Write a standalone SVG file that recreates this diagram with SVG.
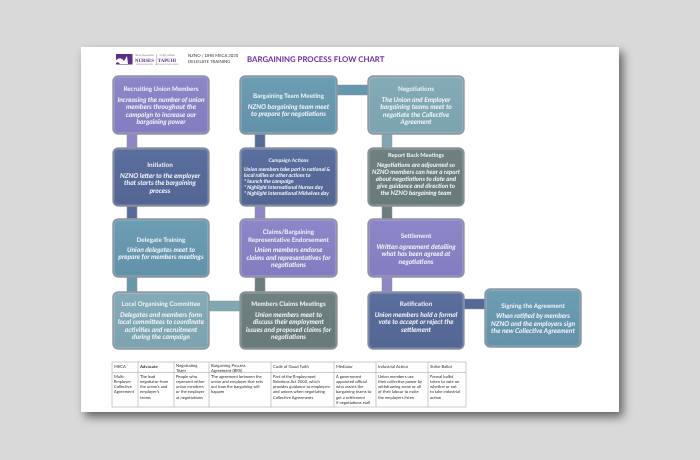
<svg xmlns="http://www.w3.org/2000/svg" width="700" height="460" viewBox="0 0 700 460">
<style>
text{font-family:"Lato","Open Sans","Liberation Sans",sans-serif;text-rendering:geometricPrecision}
.box{stroke:#93979f;stroke-width:1.4}
.t{fill:#eef1f6;font-size:6.3px;font-weight:700;text-anchor:middle}
.s{fill:#f2f4f8;font-size:6.7px;font-weight:700;font-style:italic;text-anchor:middle}
.t2{fill:#eef1f6;font-size:5.7px;font-weight:700;text-anchor:middle}
.s2{fill:#f2f4f8;font-size:6.2px;font-weight:700;font-style:italic;text-anchor:middle}
.t3{fill:#eef1f6;font-size:5px;font-weight:700;text-anchor:middle}
.s3{fill:#f2f4f8;font-size:5.3px;font-weight:700;font-style:italic}
.hi{fill:none;stroke:#ffffff;stroke-opacity:.18;stroke-width:.8}
.p{fill:url(#gp)}.b{fill:url(#gb)}.c{fill:url(#gc)}.l{fill:url(#gl)}.g{fill:url(#gg)}
.cn{stroke:#8d959c;stroke-width:.5}
.th{font-size:4.2px;fill:#333}
.td{font-size:4.1px;fill:#333}
.gr{fill:none;stroke:#aaa;stroke-width:.6}
</style>
<defs>
<linearGradient id="gp" x1="0" y1="0" x2="0" y2="1"><stop offset="0" stop-color="#8d87c9"/><stop offset="1" stop-color="#837cc0"/></linearGradient>
<linearGradient id="gb" x1="0" y1="0" x2="0" y2="1"><stop offset="0" stop-color="#5b6f9f"/><stop offset="1" stop-color="#526593"/></linearGradient>
<linearGradient id="gc" x1="0" y1="0" x2="0" y2="1"><stop offset="0" stop-color="#6c9db3"/><stop offset="1" stop-color="#6192a9"/></linearGradient>
<linearGradient id="gl" x1="0" y1="0" x2="0" y2="1"><stop offset="0" stop-color="#84abb7"/><stop offset="1" stop-color="#7ba3b0"/></linearGradient>
<linearGradient id="gg" x1="0" y1="0" x2="0" y2="1"><stop offset="0" stop-color="#6f8280"/><stop offset="1" stop-color="#677a78"/></linearGradient>
<filter id="sh" x="-10%" y="-10%" width="120%" height="120%"><feDropShadow dx="4" dy="5" stdDeviation="5" flood-color="#000" flood-opacity=".55"/></filter>
<filter id="bl"><feGaussianBlur stdDeviation=".3"/></filter>
</defs>
<rect width="700" height="460" fill="#d9d9d9"/>
<rect x="81" y="47" width="538" height="365" fill="#fff" filter="url(#sh)"/>
<g filter="url(#bl)">
<g id="header">
<rect x="116" y="54" width="16.500" height="10.500" fill="#5b2d8e"/>
<path d="M116 60q5-4 8 1l3-5 1 8h-8q-2-3-4-1z" fill="#fff"/>
<rect x="156" y="54" width=".5" height="11" fill="#999"/>
<text x="144.500" y="56" font-size="2.600" fill="#777" text-anchor="middle">NEW ZEALAND</text>
<text x="144.500" y="61.500" font-size="4.800" font-weight="700" fill="#5b2d8e" text-anchor="middle" style="font-family:'Liberation Serif',serif">NURSES</text>
<text x="144.500" y="64.500" font-size="2.200" fill="#777" text-anchor="middle">ORGANISATION</text>
<text x="167" y="56" font-size="2.600" fill="#777" text-anchor="middle">TŌPŪTANGA</text>
<text x="167" y="61.500" font-size="4.800" font-weight="700" fill="#5b2d8e" text-anchor="middle" style="font-family:'Liberation Serif',serif">TAPUHI</text>
<text x="167" y="64.500" font-size="2.200" fill="#777" text-anchor="middle">KAITIAKI O AOTEAROA</text>
<text x="188" y="56.500" font-size="4.300" fill="#333">NZNO / DHB MECA 2020</text>
<text x="188" y="62.500" font-size="4.300" fill="#333">DELEGATE TRAINING</text>
<text x="247" y="62" font-size="7.800" font-weight="700" fill="#6a2da8">BARGAINING PROCESS FLOW CHART</text>
</g>
<g id="connectors">
<rect class="cn" x="127" y="134" width="10" height="14" fill="#8d87c9"/>
<rect class="cn" x="127" y="206" width="10" height="13" fill="#566a9a"/>
<rect class="cn" x="127" y="277" width="10" height="15" fill="#6597ae"/>
<rect class="cn" x="209" y="301" width="31" height="10" fill="#7fa8b4"/>
<rect class="cn" x="255" y="277" width="10" height="15" fill="#6b7f7d"/>
<rect class="cn" x="255" y="206" width="10" height="13" fill="#8d87c9"/>
<rect class="cn" x="255" y="134" width="10" height="14" fill="#566a9a"/>
<rect class="cn" x="337" y="85" width="31" height="10" fill="#6597ae"/>
<rect class="cn" x="382" y="134" width="10" height="14" fill="#7fa8b4"/>
<rect class="cn" x="382" y="206" width="10" height="13" fill="#6b7f7d"/>
<rect class="cn" x="382" y="277" width="10" height="15" fill="#8d87c9"/>
<rect class="cn" x="464" y="299" width="21" height="10" fill="#566a9a"/>
</g>
<g id="recruiting"><rect class="box p" x="113" y="76" width="96" height="58" rx="5"/><rect class="hi" x="114.500" y="77.500" width="93" height="55" rx="4"/><text class="t" x="161" y="90.500">Recruiting Union Members</text><text class="s" x="161" y="101.500">Increasing the number of union</text><text class="s" x="161" y="109">members throughout the</text><text class="s" x="161" y="116.500">campaign to increase our</text><text class="s" x="161" y="124">bargaining power</text></g>
<g id="initiation"><rect class="box b" x="113" y="148" width="96" height="58" rx="5"/><rect class="hi" x="114.500" y="149.500" width="93" height="55" rx="4"/><text class="t" x="160" y="166.500">Initiation</text><text class="s" x="160" y="177.500">NZNO letter to the employer</text><text class="s" x="160" y="185">that starts the bargaining</text><text class="s" x="160" y="192.500">process</text></g>
<g id="delegate"><rect class="box c" x="113" y="219" width="96" height="58" rx="5"/><rect class="hi" x="114.500" y="220.500" width="93" height="55" rx="4"/><text class="t" x="161" y="241.500">Delegate Training</text><text class="s" x="161" y="251.500">Union delegates meet to</text><text class="s" x="161" y="259">prepare for members meetings</text></g>
<g id="local"><rect class="box l" x="113" y="292" width="96" height="57" rx="5"/><rect class="hi" x="114.500" y="293.500" width="93" height="54" rx="4"/><text class="t" x="161" y="306">Local Organising Committee</text><text class="s" x="161" y="316.500">Delegates and members form</text><text class="s" x="161" y="324">local committees to coordinate</text><text class="s" x="161" y="331.500">activities and recruitment</text><text class="s" x="161" y="339">during the campaign</text></g>
<g id="bargaining-team"><rect class="box c" x="240" y="76" width="97" height="58" rx="5"/><rect class="hi" x="241.500" y="77.500" width="94" height="55" rx="4"/><text class="t" x="288.500" y="98">Bargaining Team Meeting</text><text class="s" x="288.500" y="108.500">NZNO bargaining team meet</text><text class="s" x="288.500" y="116">to prepare for negotiations</text></g>
<g id="campaign"><rect class="box b" x="240" y="148" width="97" height="58" rx="5"/><rect class="hi" x="241.500" y="149.500" width="94" height="55" rx="4"/><text class="t3" x="288.500" y="162">Campaign Actions</text><text class="s3" x="244" y="170.500">Union members take part in national &amp;</text><text class="s3" x="244" y="176.500">local rallies or other actions to</text><text class="s3" x="244" y="182.500">* launch the campaign</text><text class="s3" x="244" y="188.500">* highlight International Nurses day</text><text class="s3" x="244" y="194.500">* highlight International Midwives day</text></g>
<g id="claims"><rect class="box p" x="240" y="219" width="97" height="58" rx="5"/><rect class="hi" x="241.500" y="220.500" width="94" height="55" rx="4"/><text class="t" x="288.500" y="234">Claims/Bargaining</text><text class="t" x="288.500" y="241.500">Representative Endorsement</text><text class="s" x="288.500" y="252">Union members endorse</text><text class="s" x="288.500" y="259.500">claims and representatives for</text><text class="s" x="288.500" y="267">negotiations</text></g>
<g id="members-claims"><rect class="box g" x="240" y="292" width="97" height="57" rx="5"/><rect class="hi" x="241.500" y="293.500" width="94" height="54" rx="4"/><text class="t" x="288.500" y="306">Members Claims Meetings</text><text class="s" x="288.500" y="316.500">Union members meet to</text><text class="s" x="288.500" y="324">discuss their employment</text><text class="s" x="288.500" y="331.500">issues and proposed claims for</text><text class="s" x="288.500" y="339">negotiations</text></g>
<g id="negotiations"><rect class="box l" x="368" y="76" width="96" height="58" rx="5"/><rect class="hi" x="369.500" y="77.500" width="93" height="55" rx="4"/><text class="t" x="416" y="90.500">Negotiations</text><text class="s" x="416" y="101.500">The Union and Employer</text><text class="s" x="416" y="109">bargaining teams meet to</text><text class="s" x="416" y="116.500">negotiate the Collective</text><text class="s" x="416" y="124">Agreement</text></g>
<g id="report-back"><rect class="box g" x="368" y="148" width="96" height="58" rx="5"/><rect class="hi" x="369.500" y="149.500" width="93" height="55" rx="4"/><text class="t2" x="416" y="156.500">Report Back Meetings</text><text class="s2" x="416" y="166.500">Negotiations are adjourned so</text><text class="s2" x="416" y="173.500">NZNO members can hear a report</text><text class="s2" x="416" y="180.500">about negotiations to date and</text><text class="s2" x="416" y="187.500">give guidance and direction to</text><text class="s2" x="416" y="194.500">the NZNO bargaining team</text></g>
<g id="settlement"><rect class="box p" x="368" y="219" width="96" height="58" rx="5"/><rect class="hi" x="369.500" y="220.500" width="93" height="55" rx="4"/><text class="t" x="416" y="238">Settlement</text><text class="s" x="416" y="248.500">Written agreement detailing</text><text class="s" x="416" y="256">what has been agreed at</text><text class="s" x="416" y="263.500">negotiations</text></g>
<g id="ratification"><rect class="box b" x="368" y="292" width="96" height="57" rx="5"/><rect class="hi" x="369.500" y="293.500" width="93" height="54" rx="4"/><text class="t" x="416" y="306">Ratification</text><text class="s" x="416" y="316.500">Union members hold a formal</text><text class="s" x="416" y="324">vote to accept or reject the</text><text class="s" x="416" y="331.500">settlement</text></g>
<g id="signing"><rect class="box c" x="485" y="289" width="96" height="58" rx="5"/><rect class="hi" x="486.500" y="290.500" width="93" height="55" rx="4"/><text class="t" x="533" y="307.500">Signing the Agreement</text><text class="s" x="533" y="318">When ratified by members</text><text class="s" x="533" y="325.500">NZNO and the employers sign</text><text class="s" x="533" y="333">the new Collective Agreement</text></g>
<g id="glossary">
<rect class="gr" x="112" y="362" width="354" height="45"/>
<path class="gr" d="M112 372.500H466M138 362V407M174 362V407M209 362V407M271 362V407M334 362V407M376 362V407M428 362V407"/>
<text class="th" x="114" y="367.500">MECA</text>
<text class="th" x="140" y="367.500" font-weight="700">Advocate</text>
<text class="th" x="176" y="366.500">Negotiating</text><text class="th" x="176" y="371.500">Team</text>
<text class="th" x="211" y="366.500">Bargaining Process</text><text class="th" x="211" y="371.500">Agreement (BPA)</text>
<text class="th" x="273" y="367.500">Code of Good Faith</text>
<text class="th" x="336" y="367.500">Mediator</text>
<text class="th" x="378" y="367.500">Industrial Action</text>
<text class="th" x="430" y="367.500">Strike Ballot</text>
<g id="col1"><text class="td" x="114" y="377.500">Multi-</text><text class="td" x="114" y="382.800">Employer</text><text class="td" x="114" y="388.100">Collective</text><text class="td" x="114" y="393.400">Agreement</text></g>
<g id="col2"><text class="td" x="140" y="377.500">The lead</text><text class="td" x="140" y="382.800">negotiator from</text><text class="td" x="140" y="388.100">the union's and</text><text class="td" x="140" y="393.400">employer's</text><text class="td" x="140" y="398.700">teams</text></g>
<g id="col3"><text class="td" x="176" y="377.500">People who</text><text class="td" x="176" y="382.800">represent either</text><text class="td" x="176" y="388.100">union members</text><text class="td" x="176" y="393.400">or the employer</text><text class="td" x="176" y="398.700">at negotiations</text></g>
<g id="col4"><text class="td" x="211" y="377.500">The agreement between the</text><text class="td" x="211" y="382.800">union and employer that sets</text><text class="td" x="211" y="388.100">out how the bargaining will</text><text class="td" x="211" y="393.400">happen</text></g>
<g id="col5"><text class="td" x="273" y="377.500">Part of the Employment</text><text class="td" x="273" y="382.800">Relations Act 2000, which</text><text class="td" x="273" y="388.100">provides guidance to employers</text><text class="td" x="273" y="393.400">and unions when negotiating</text><text class="td" x="273" y="398.700">Collective Agreements</text></g>
<g id="col6"><text class="td" x="336" y="377.500">A government</text><text class="td" x="336" y="382.800">appointed official</text><text class="td" x="336" y="388.100">who assists the</text><text class="td" x="336" y="393.400">bargaining teams to</text><text class="td" x="336" y="398.700">get a settlement</text><text class="td" x="336" y="404">if negotiations stall</text></g>
<g id="col7"><text class="td" x="378" y="377.500">Union members use</text><text class="td" x="378" y="382.800">their collective power by</text><text class="td" x="378" y="388.100">withdrawing some or all</text><text class="td" x="378" y="393.400">of their labour to make</text><text class="td" x="378" y="398.700">the employers listen</text></g>
<g id="col8"><text class="td" x="430" y="377.500">Formal ballot</text><text class="td" x="430" y="382.800">taken to vote on</text><text class="td" x="430" y="388.100">whether or not</text><text class="td" x="430" y="393.400">to take industrial</text><text class="td" x="430" y="398.700">action</text></g>
</g>
</g>
</svg>
